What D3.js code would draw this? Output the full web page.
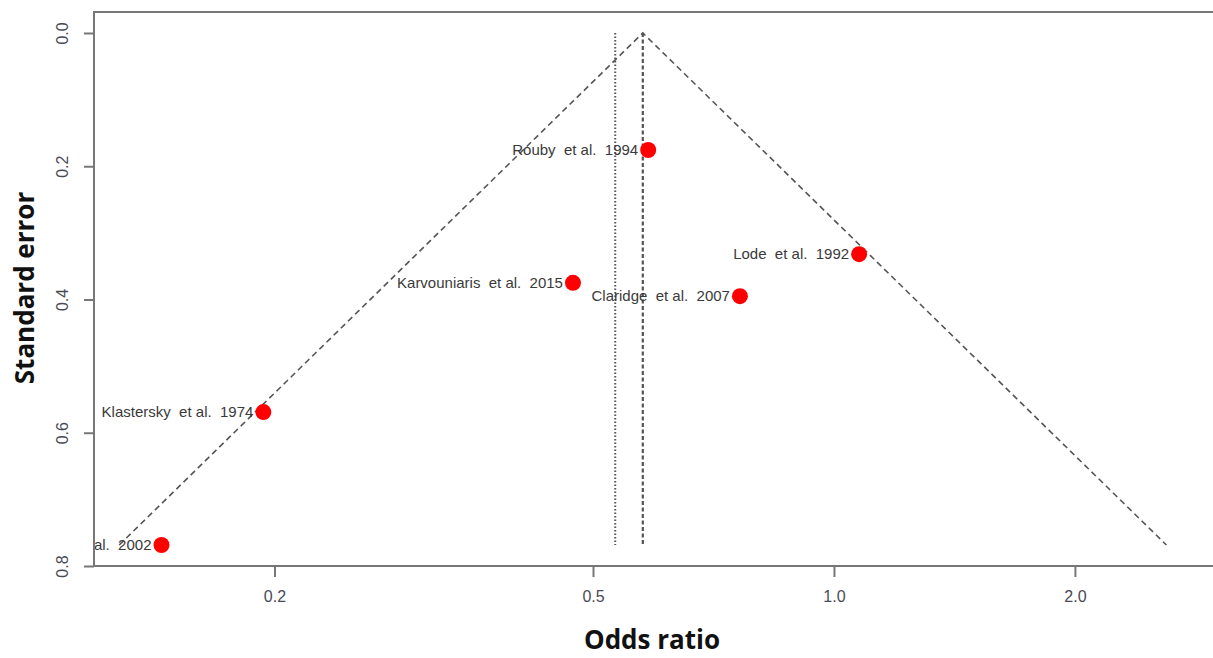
<!DOCTYPE html>
<html>
<head>
<meta charset="utf-8">
<script src="https://cdn.jsdelivr.net/npm/d3@7"></script>
<style>
  body { margin: 0; background: #fff; }
  svg { display: block; font-family: "Liberation Sans", Arial, sans-serif; }
  .lbl { font-size: 15px; fill: #3a3a3a; white-space: pre; }
  .tick text { font-size: 16px; fill: #4a4a55; }
  .title { font-size: 26px; font-weight: bold; fill: #111; font-family: "Open Sans", "DejaVu Sans", sans-serif; }
</style>
</head>
<body>
<div id="chart"></div>
<script>
var studies = ['Rouby  et al.  1994', 'Lode  et al.  1992', 'Karvouniaris  et al.  2015',
  'Claridge  et al.  2007', 'Klastersky  et al.  1974', 'et al.  2002']
var oddsRatio = [0.586, 1.075, 0.472, 0.763, 0.1937, 0.1445]
var stdError = [0.1756, 0.332, 0.375, 0.395, 0.569, 0.7685]
var pooled = 0.577      // summary estimate (dashed line, funnel apex)
var pooledAlt = 0.533   // dotted reference line
var xTicks = [0.2, 0.5, 1.0, 2.0]
var yTicks = [0.0, 0.2, 0.4, 0.6, 0.8]

var margin = {left: 94, top: 12}
var width = 1155, height = 554

var svg = d3.select('#chart').append('svg')
  .attr('width', 1213).attr('height', 658)
var g = svg.append('g').attr('transform', 'translate(' + margin.left + ',' + margin.top + ')')

var x = d3.scaleLog().domain([0.119, 3.3]).range([0, width])
var y = d3.scaleLinear().domain([-0.0315, 0.8]).range([0, height])

g.append('clipPath').attr('id', 'clip')
  .append('rect').attr('width', width).attr('height', height)

var plot = g.append('g').attr('clip-path', 'url(#clip)')

// funnel: pooled ± 1.96 se on the log scale
var seMax = d3.max(stdError)
var lo = Math.exp(Math.log(pooled) - 1.96 * seMax)
var hi = Math.exp(Math.log(pooled) + 1.96 * seMax)
plot.append('path')
  .attr('d', d3.line()([[x(lo), y(seMax)], [x(pooled), y(0)], [x(hi), y(seMax)]]))
  .attr('fill', 'none').attr('stroke', '#555').attr('stroke-width', 1.6)
  .attr('stroke-dasharray', '6,4')

plot.append('line')
  .attr('x1', x(pooledAlt)).attr('x2', x(pooledAlt)).attr('y1', y(0)).attr('y2', y(seMax))
  .attr('stroke', '#555').attr('stroke-width', 2).attr('stroke-dasharray', '1.5,2')

plot.append('line')
  .attr('x1', x(pooled)).attr('x2', x(pooled)).attr('y1', y(0)).attr('y2', y(seMax))
  .attr('stroke', '#555').attr('stroke-width', 2.2).attr('stroke-dasharray', '4,2.5')

var pts = d3.range(studies.length)
plot.selectAll('circle').data(pts).join('circle')
  .attr('cx', i => x(oddsRatio[i])).attr('cy', i => y(stdError[i]))
  .attr('r', 8).attr('fill', '#ff0000')

plot.selectAll('text.lbl').data(pts).join('text')
  .attr('class', 'lbl')
  .attr('x', i => x(oddsRatio[i]) - 10).attr('y', i => y(stdError[i]))
  .attr('dy', '0.35em').attr('text-anchor', 'end')
  .text(i => studies[i])

// box (right side runs off the picture)
g.append('path')
  .attr('d', 'M' + (width + 20) + ',0H0V' + height + 'H' + (width + 20))
  .attr('fill', 'none').attr('stroke', '#777').attr('stroke-width', 2)

var xAxis = g.append('g').attr('transform', 'translate(0,' + height + ')')
  .call(d3.axisBottom(x).tickValues(xTicks).tickFormat(d3.format('.1f')).tickSize(11).tickPadding(14))
var yAxis = g.append('g')
  .call(d3.axisLeft(y).tickValues(yTicks).tickFormat(d3.format('.1f')).tickSize(10))

xAxis.select('.domain').remove()
yAxis.select('.domain').remove()
svg.selectAll('.tick line').attr('stroke', '#777').attr('stroke-width', 2)
yAxis.selectAll('.tick text')
  .attr('transform', 'translate(-32,0) rotate(-90)')
  .attr('x', 0).attr('dy', '0.35em').attr('text-anchor', 'middle')

svg.append('text').attr('class', 'title')
  .attr('x', 652).attr('y', 649).attr('text-anchor', 'middle')
  .text('Odds ratio')
svg.append('text').attr('class', 'title')
  .attr('transform', 'translate(34,288) rotate(-90)').attr('text-anchor', 'middle')
  .text('Standard error')
</script>
</body>
</html>
